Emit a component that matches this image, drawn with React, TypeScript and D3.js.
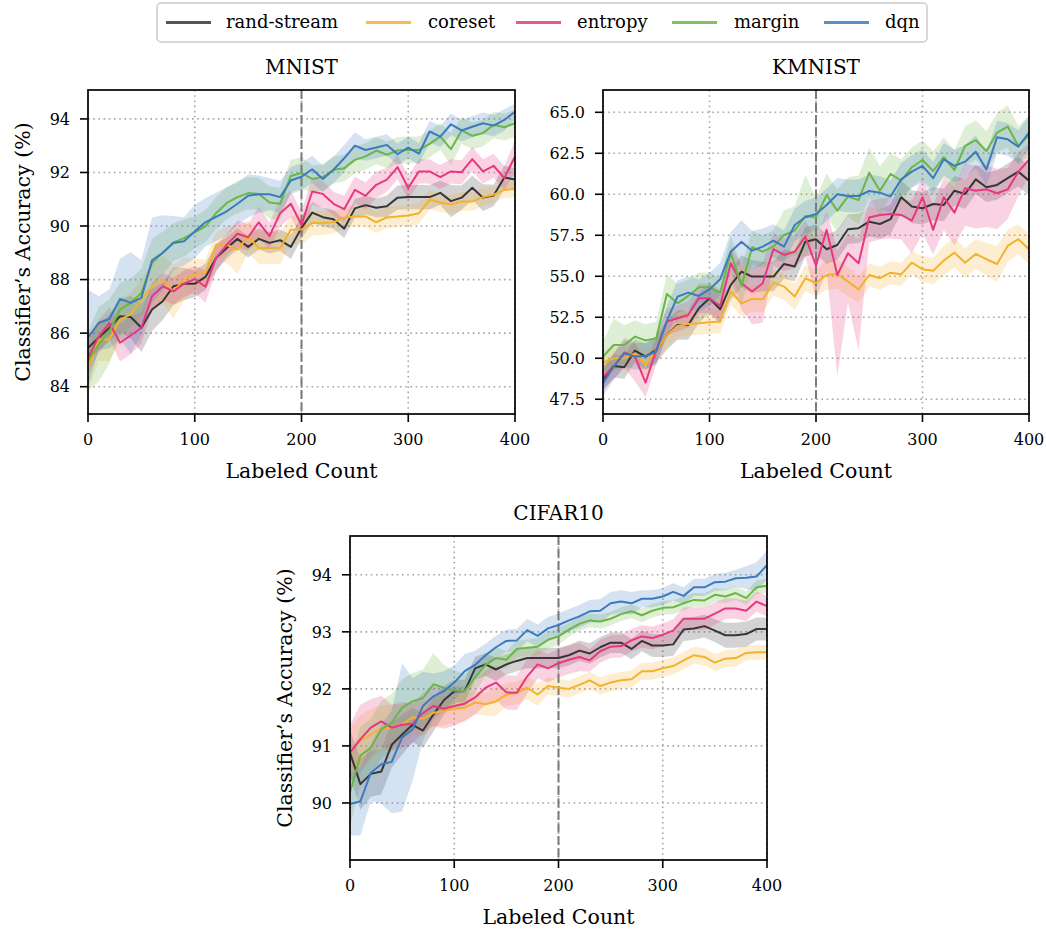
import React from 'react';
import * as d3 from 'd3';

// ---------- data ----------
const labeledCount = d3.range(0, 401, 10);
const seriesNames = ['rand-stream', 'coreset', 'entropy', 'margin', 'dqn'];
const seriesColors = ['#363636', '#F5B12C', '#E8377F', '#6AB646', '#3A7BBF'];

// MNIST
const mnistRand = [85.45,85.83,86.2,86.63,86.6,86.2,86.88,87.19,87.75,87.84,87.84,88.1,88.81,89.18,89.52,89.22,89.52,89.37,89.47,89.22,89.93,90.5,90.33,90.25,89.9,90.66,90.78,90.68,90.74,91.06,91.08,91.08,91.08,91.24,90.93,91.06,91.43,91.06,91.14,91.81,91.74];
const mnistRandStd = [0.5,0.5,0.5,0.6,0.8,0.9,0.8,0.7,0.7,0.6,0.5,0.5,0.5,0.4,0.4,0.4,0.4,0.4,0.4,0.45,0.4,0.4,0.35,0.35,0.35,0.35,0.35,0.35,0.4,0.45,0.45,0.45,0.45,0.45,0.6,0.45,0.45,0.5,0.4,0.45,0.4];
const mnistCore = [84.65,85.76,85.76,86.5,86.7,87.25,87.75,88.0,87.56,88.02,88.19,88.25,89.3,89.3,89.12,89.61,89.18,89.18,89.18,89.86,89.87,90.11,90.11,90.14,90.32,90.36,90.36,90.14,90.32,90.36,90.39,90.48,90.98,90.88,90.8,90.92,90.92,91.08,91.17,91.35,91.38];
const mnistCoreStd = [0.8,0.8,0.8,0.8,0.8,0.8,0.8,0.9,1.0,0.8,0.6,0.5,0.5,0.7,0.9,0.6,0.6,0.6,0.6,0.5,0.6,0.45,0.45,0.4,0.4,0.4,0.4,0.4,0.4,0.4,0.4,0.4,0.35,0.35,0.35,0.35,0.35,0.35,0.3,0.3,0.3];
const mnistEnt = [85.08,85.86,86.38,85.64,85.91,86.2,87.38,87.75,87.56,87.85,88.02,87.73,88.81,89.3,89.71,89.58,90.14,89.62,90.48,90.83,90.05,91.29,91.2,90.83,90.63,91.35,91.13,91.54,91.73,92.2,91.42,92.04,92.04,91.83,92.04,92.01,92.5,92.04,92.25,91.79,92.6];
const mnistEntStd = [0.6,0.6,0.6,0.7,0.7,0.6,0.5,0.5,0.5,0.5,0.5,0.6,0.5,0.4,0.5,0.5,0.6,0.5,0.5,0.5,0.5,0.5,0.5,0.45,0.5,0.5,0.5,0.5,0.45,0.45,0.45,0.45,0.45,0.45,0.45,0.45,0.45,0.45,0.45,0.45,0.6];
const mnistMar = [84.96,85.58,86.07,86.88,87.13,87.5,88.62,89.0,89.39,89.55,89.76,89.99,90.48,90.86,91.08,91.23,91.2,90.88,90.83,91.87,91.98,91.76,91.83,92.1,92.16,92.47,92.6,92.82,92.66,92.82,92.84,92.84,93.07,93.34,92.87,93.57,93.37,93.47,93.78,93.69,93.84];
const mnistMarStd = [1.1,1.4,1.2,1.0,0.9,0.9,0.9,0.8,0.7,0.7,0.6,0.6,0.6,0.6,0.6,0.6,0.6,0.6,0.6,0.6,0.6,0.5,0.5,0.5,0.5,0.5,0.5,0.5,0.5,0.5,0.5,0.5,0.5,0.5,0.6,0.5,0.5,0.5,0.5,0.5,0.5];
const mnistDqn = [85.83,86.38,86.53,87.28,87.13,87.32,88.72,89.0,89.37,89.43,89.8,90.14,90.34,90.55,90.83,91.13,91.19,91.19,91.08,91.7,91.84,92.12,91.76,92.1,92.53,93.0,92.84,92.93,93.03,92.68,92.93,92.7,93.53,93.34,93.8,93.57,93.71,93.84,93.75,93.96,94.27];
const mnistDqnStd = [1.8,1.0,1.1,1.5,1.9,1.4,1.6,1.4,1.0,0.9,1.0,0.9,0.9,0.9,0.8,0.8,0.7,0.6,0.6,0.5,0.5,0.5,0.5,0.5,0.5,0.5,0.4,0.4,0.4,0.4,0.4,0.4,0.4,0.4,0.4,0.4,0.4,0.4,0.4,0.4,0.3];

// KMNIST
const kmRand = [48.72,49.53,49.45,50.47,50.1,50.51,51.42,52.03,52.03,53.05,53.66,52.99,54.47,55.28,54.98,54.98,54.98,55.75,55.59,57.11,57.26,56.65,56.91,57.87,57.93,58.33,58.19,58.48,59.82,59.25,59.15,59.41,59.35,60.22,60.02,60.91,60.43,60.57,60.98,61.38,60.83];
const kmRandStd = [0.7,0.7,0.7,0.7,0.8,0.8,0.9,0.9,0.9,0.9,0.9,0.9,0.9,1.0,1.0,0.9,0.9,0.9,0.9,0.9,0.9,0.9,0.9,0.9,0.9,0.9,0.9,0.9,1.0,1.0,1.0,1.0,1.0,0.9,0.9,0.9,0.9,0.9,0.9,0.9,0.9];
const kmCore = [49.74,50.0,50.0,50.3,49.59,50.51,51.42,51.97,52.09,52.13,52.2,52.24,54.07,53.35,53.62,53.6,54.61,54.37,53.76,54.88,54.59,55.08,55.14,54.67,54.2,55.08,54.88,55.22,55.12,55.83,55.43,55.33,55.96,56.44,55.83,56.36,56.04,55.75,56.85,57.26,56.65];
const kmCoreStd = [0.7,0.7,0.7,0.7,0.7,0.7,0.7,0.7,0.7,0.7,0.7,0.7,0.8,0.8,0.8,0.8,0.8,0.8,0.8,0.8,0.8,0.9,0.9,0.9,0.8,0.7,0.7,0.7,0.7,0.7,0.8,0.8,0.9,0.9,0.9,0.9,1.0,1.1,1.0,0.9,0.9];
const kmEnt = [48.84,49.49,50.35,50.1,48.52,50.51,52.24,52.44,52.64,53.66,53.66,53.19,55.79,54.57,54.07,54.57,56.65,56.3,56.5,57.42,55.64,57.83,55.08,56.4,55.79,58.58,58.74,58.8,58.74,58.39,59.82,57.83,59.82,58.88,60.37,60.22,60.3,60.06,60.3,61.38,62.09];
const kmEntStd = [0.7,0.8,0.9,0.9,0.8,0.9,0.8,0.8,0.8,0.9,0.9,1.0,1.0,1.2,1.3,1.3,1.0,1.0,1.0,1.0,1.5,1.2,1.5,1.2,1.5,1.0,1.0,1.0,1.0,1.2,1.2,1.5,1.2,1.5,1.5,1.5,1.5,1.5,1.3,1.2,1.0];
const kmEntLowStd = [0.7,0.8,0.9,1.5,0.9,0.9,0.8,0.8,0.8,0.9,0.9,1.0,1.0,1.6,2.0,2.4,1.0,1.0,1.0,1.2,2.0,2.5,6.2,3.0,5.3,1.5,1.5,1.5,1.5,2.0,2.2,1.5,2.0,2.0,2.3,2.3,2.3,2.2,1.8,1.5,1.0];
const kmMar = [50.1,50.81,50.81,51.32,51.08,51.22,53.92,53.35,53.8,54.33,54.33,54.0,56.44,54.41,56.77,56.5,56.81,57.52,57.78,58.68,58.59,59.96,59.0,59.86,59.65,61.32,60.22,61.24,60.83,61.65,62.09,61.42,62.26,61.48,62.95,63.31,62.64,63.76,64.13,62.95,63.62];
const kmMarStd = [0.9,1.6,1.2,1.0,1.0,1.0,1.2,1.2,1.0,0.9,0.9,0.9,1.0,1.2,1.0,1.0,1.0,1.5,1.5,2.5,1.2,1.3,1.3,1.2,1.5,1.5,1.5,1.3,1.3,1.2,1.2,1.2,1.2,1.2,1.2,1.2,1.2,1.2,1.3,1.2,1.2];
const kmDqn = [48.48,49.49,50.3,50.1,50.14,50.41,52.3,53.76,54.0,53.8,54.2,54.82,56.5,57.11,56.56,56.81,57.17,56.81,58.13,58.6,58.8,59.35,60.0,59.9,59.9,60.2,60.1,59.86,60.91,61.38,61.73,60.98,62.13,61.73,61.99,62.6,61.52,63.48,63.35,62.9,63.76];
const kmDqnStd = [0.8,0.8,0.8,0.8,0.8,0.8,0.9,1.0,1.0,1.0,1.0,1.0,1.2,1.3,1.2,1.1,1.0,1.0,1.0,1.0,1.0,1.0,1.0,1.0,1.0,1.0,1.0,1.0,1.0,1.0,1.0,1.0,1.0,1.0,1.0,1.0,1.0,1.0,1.0,1.0,1.0];

// CIFAR10
const cRand = [90.88,90.33,90.51,90.55,91.02,91.2,91.37,91.27,91.55,91.8,91.96,91.96,92.36,92.43,92.34,92.43,92.49,92.54,92.54,92.54,92.54,92.59,92.67,92.62,92.73,92.81,92.81,92.7,92.84,92.76,92.76,92.78,93.04,93.06,93.1,93.02,92.94,92.94,92.96,93.05,93.05];
const cRandStd = [0.4,0.45,0.4,0.4,0.4,0.35,0.3,0.3,0.3,0.25,0.2,0.2,0.2,0.2,0.2,0.18,0.18,0.18,0.18,0.18,0.18,0.18,0.18,0.18,0.18,0.18,0.18,0.18,0.18,0.2,0.2,0.2,0.2,0.2,0.2,0.2,0.22,0.22,0.22,0.2,0.2];
const cCore = [90.91,91.09,91.2,91.31,91.32,91.38,91.5,91.48,91.58,91.61,91.65,91.67,91.76,91.73,91.78,91.9,91.93,92.02,91.9,92.05,92.02,92.0,92.07,92.15,92.05,92.11,92.15,92.17,92.31,92.31,92.36,92.4,92.5,92.59,92.56,92.46,92.53,92.54,92.63,92.64,92.64];
const cCoreStd = [0.4,0.45,0.45,0.4,0.4,0.35,0.3,0.3,0.25,0.25,0.25,0.25,0.2,0.2,0.25,0.2,0.2,0.2,0.2,0.15,0.15,0.15,0.15,0.15,0.15,0.15,0.15,0.15,0.15,0.15,0.15,0.15,0.15,0.15,0.15,0.15,0.15,0.15,0.13,0.13,0.13];
const cEnt = [90.88,91.12,91.32,91.43,91.32,91.37,91.39,91.58,91.7,91.65,91.7,91.74,91.85,92.02,92.11,91.94,91.93,92.22,92.43,92.36,92.45,92.51,92.56,92.5,92.66,92.74,92.75,92.85,92.92,92.89,92.95,93.02,93.23,93.23,93.23,93.32,93.41,93.41,93.37,93.53,93.45];
const cEntStd = [0.5,0.6,0.5,0.45,0.4,0.4,0.35,0.35,0.35,0.35,0.35,0.3,0.3,0.3,0.3,0.3,0.3,0.3,0.25,0.25,0.25,0.25,0.25,0.2,0.2,0.2,0.2,0.2,0.2,0.2,0.2,0.2,0.2,0.2,0.2,0.2,0.18,0.18,0.18,0.18,0.18];
const cMar = [90.19,90.83,90.97,91.29,91.41,91.67,91.78,91.84,92.08,92.02,91.97,91.96,92.2,92.42,92.54,92.51,92.7,92.72,92.74,92.86,92.92,93.04,93.14,93.2,93.18,93.23,93.31,93.36,93.29,93.37,93.42,93.43,93.5,93.56,93.55,93.65,93.62,93.68,93.59,93.78,93.81];
const cMarStd = [0.6,0.5,0.5,0.5,0.5,0.5,0.5,0.5,0.55,0.4,0.35,0.3,0.25,0.2,0.2,0.15,0.15,0.15,0.15,0.15,0.15,0.12,0.12,0.12,0.12,0.12,0.12,0.12,0.12,0.12,0.12,0.12,0.12,0.12,0.12,0.12,0.12,0.12,0.12,0.12,0.12];
const cDqn = [89.98,90.03,90.53,90.68,90.72,91.15,91.29,91.7,91.87,91.96,92.11,92.31,92.42,92.59,92.73,92.84,92.85,93.03,92.93,93.06,93.12,93.2,93.27,93.36,93.37,93.5,93.53,93.5,93.58,93.58,93.62,93.7,93.63,93.78,93.78,93.87,93.88,93.94,93.95,93.97,94.17];
const cDqnStd = [0.55,0.6,0.5,0.7,0.9,1.3,0.9,0.6,0.4,0.35,0.3,0.3,0.25,0.2,0.2,0.2,0.2,0.2,0.2,0.2,0.2,0.2,0.2,0.2,0.2,0.2,0.2,0.2,0.15,0.15,0.15,0.15,0.15,0.15,0.15,0.15,0.15,0.15,0.2,0.25,0.25];

const mnistTicks = [84, 86, 88, 90, 92, 94];
const kmnistTicks = [47.5, 50, 52.5, 55, 57.5, 60, 62.5, 65];
const cifarTicks = [90, 91, 92, 93, 94];
const xTicks = [0, 100, 200, 300, 400];

// ---------- layout ----------
const FONT = 'DejaVu Serif';
const W = 1046;
const H = 931;

type PanelProps = {
  id: string;
  title: string;
  left: number; right: number; top: number; bottom: number;
  yDomain: [number, number];
  yTicks: number[];
  yFmt: (v: number) => string;
  means: number[][];
  stds: number[][];
  lowStds: (number[] | null)[];
  yLabel: boolean;
};

function Panel(p: PanelProps) {
  const x = d3.scaleLinear().domain([0, 400]).range([p.left, p.right]);
  const y = d3.scaleLinear().domain(p.yDomain).range([p.bottom, p.top]);
  const clipId = 'clip-' + p.id;
  const tickLen = 8;
  const cx = (p.left + p.right) / 2;
  const cy = (p.top + p.bottom) / 2;

  const areas = p.means.map((m, si) => {
    const hi = p.stds[si];
    const lo = p.lowStds[si] || hi;
    const a = d3.area<number>()
      .x((_, i) => x(labeledCount[i]))
      .y0((v, i) => y(v - lo[i]))
      .y1((v, i) => y(v + hi[i]));
    return a(m) || '';
  });
  const lines = p.means.map((m) => {
    const l = d3.line<number>()
      .x((_, i) => x(labeledCount[i]))
      .y((v) => y(v));
    return l(m) || '';
  });

  return (
    <g>
      <defs>
        <clipPath id={clipId}>
          <rect x={p.left} y={p.top} width={p.right - p.left} height={p.bottom - p.top} />
        </clipPath>
      </defs>
      {xTicks.map((t) => (
        <line key={'gx' + t} x1={x(t)} x2={x(t)} y1={p.top} y2={p.bottom}
          stroke="#a6a6a6" strokeWidth={1.6} strokeDasharray="1.6,3.6" />
      ))}
      {p.yTicks.map((t) => (
        <line key={'gy' + t} x1={p.left} x2={p.right} y1={y(t)} y2={y(t)}
          stroke="#a6a6a6" strokeWidth={1.6} strokeDasharray="1.6,3.6" />
      ))}
      <g clipPath={`url(#${clipId})`}>
        {areas.map((d, i) => (
          <path key={'a' + i} d={d} fill={seriesColors[i]} fillOpacity={0.22} stroke="none" />
        ))}
        <line x1={x(200)} x2={x(200)} y1={p.top} y2={p.bottom}
          stroke="#7a7a7a" strokeWidth={2} strokeDasharray="9,3.5" />
        {lines.map((d, i) => (
          <path key={'l' + i} d={d} fill="none" stroke={seriesColors[i]} strokeWidth={2}
            strokeLinejoin="round" />
        ))}
      </g>
      <rect x={p.left} y={p.top} width={p.right - p.left} height={p.bottom - p.top}
        fill="none" stroke="#000" strokeWidth={1.7} />
      {xTicks.map((t) => (
        <g key={'xt' + t}>
          <line x1={x(t)} x2={x(t)} y1={p.bottom} y2={p.bottom + tickLen} stroke="#000" strokeWidth={1.6} />
          <text x={x(t)} y={p.bottom + 31} textAnchor="middle" fontFamily={FONT} fontSize={16} fill="#000">{t}</text>
        </g>
      ))}
      {p.yTicks.map((t) => (
        <g key={'yt' + t}>
          <line x1={p.left - tickLen} x2={p.left} y1={y(t)} y2={y(t)} stroke="#000" strokeWidth={1.6} />
          <text x={p.left - 18} y={y(t)} dy="0.36em" textAnchor="end" fontFamily={FONT} fontSize={16} fill="#000">{p.yFmt(t)}</text>
        </g>
      ))}
      <text x={cx} y={p.top - 16} textAnchor="middle" fontFamily={FONT} fontSize={20} fill="#000">{p.title}</text>
      <text x={cx} y={p.bottom + 64} textAnchor="middle" fontFamily={FONT} fontSize={20.5} fill="#000">Labeled Count</text>
      {p.yLabel && (
        <text transform={`translate(${p.left - 58},${cy}) rotate(-90)`} textAnchor="middle"
          fontFamily={FONT} fontSize={20.5} fill="#000">Classifier’s Accuracy (%)</text>
      )}
    </g>
  );
}

const legendLineX = [166, 366, 516, 672, 824];
const legendTextX = [226, 428, 577, 734, 885];

function Legend() {
  return (
    <g>
      <rect x={157} y={3} width={770} height={39} rx={4} ry={4} fill="#fff" fillOpacity={0.8}
        stroke="#cccccc" strokeWidth={1.5} />
      {seriesNames.map((n, i) => (
        <g key={n}>
          <line x1={legendLineX[i]} x2={legendLineX[i] + 45} y1={22.5} y2={22.5}
            stroke={seriesColors[i]} strokeOpacity={0.85} strokeWidth={3} />
          <text x={legendTextX[i]} y={22.5} dy="0.33em" fontFamily={FONT} fontSize={18} fill="#000">{n}</text>
        </g>
      ))}
    </g>
  );
}

export default function App() {
  const f0 = (v: number) => d3.format('d')(v);
  const f1 = (v: number) => d3.format('.1f')(v);
  return (
    <svg width={W} height={H} viewBox={`0 0 ${W} ${H}`}
      style={{ position: 'absolute', left: 0, top: 0, background: '#fff' }}>
      <rect x={0} y={0} width={W} height={H} fill="#fff" />
      <Panel id="mnist" title="MNIST" left={88} right={515} top={90} bottom={414}
        yDomain={[82.98, 95.08]} yTicks={mnistTicks} yFmt={f0}
        means={[mnistRand, mnistCore, mnistEnt, mnistMar, mnistDqn]}
        stds={[mnistRandStd, mnistCoreStd, mnistEntStd, mnistMarStd, mnistDqnStd]}
        lowStds={[null, null, null, null, null]} yLabel={true} />
      <Panel id="kmnist" title="KMNIST" left={603} right={1029} top={90} bottom={414}
        yDomain={[46.6, 66.36]} yTicks={kmnistTicks} yFmt={f1}
        means={[kmRand, kmCore, kmEnt, kmMar, kmDqn]}
        stds={[kmRandStd, kmCoreStd, kmEntStd, kmMarStd, kmDqnStd]}
        lowStds={[null, null, kmEntLowStd, null, null]} yLabel={false} />
      <Panel id="cifar" title="CIFAR10" left={350} right={767} top={536} bottom={860}
        yDomain={[89.0, 94.68]} yTicks={cifarTicks} yFmt={f0}
        means={[cRand, cCore, cEnt, cMar, cDqn]}
        stds={[cRandStd, cCoreStd, cEntStd, cMarStd, cDqnStd]}
        lowStds={[null, null, null, null, null]} yLabel={true} />
      <Legend />
    </svg>
  );
}
